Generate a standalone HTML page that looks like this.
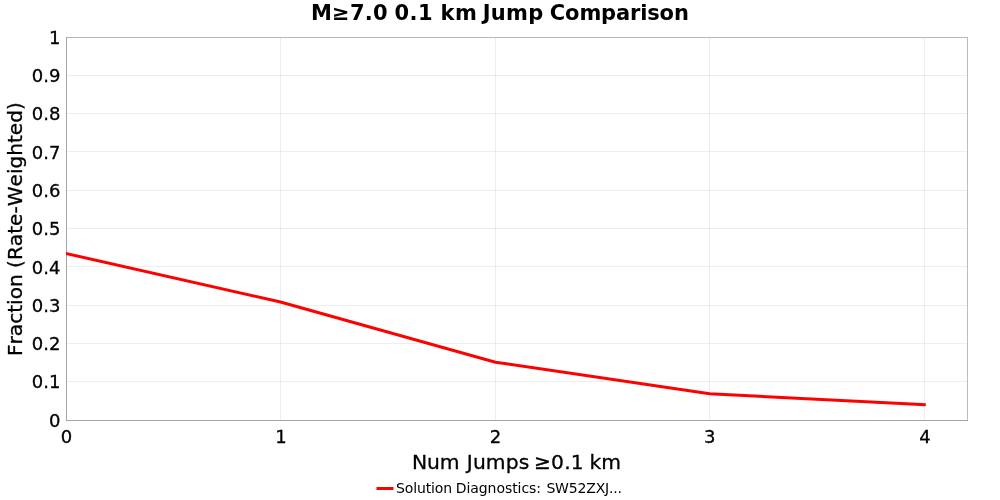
<!DOCTYPE html>
<html lang="en">
<head>
<meta charset="utf-8">
<title>M≥7.0 0.1 km Jump Comparison</title>
<style>
html,body{margin:0;padding:0;background:#fff;}
body{width:1000px;height:500px;overflow:hidden;}
svg{display:block;will-change:transform;}
text{font-family:"DejaVu Sans","Liberation Sans",sans-serif;font-kerning:none;fill:#000;stroke:#000;stroke-width:0.3px;stroke-linejoin:round;}
.tick text{font-size:18px;}
.grid line{stroke:#000;stroke-opacity:0.065;stroke-width:1;shape-rendering:crispEdges;}
</style>
</head>
<body>
<svg width="1000" height="500" viewBox="0 0 1000 500">
<rect x="0" y="0" width="1000" height="500" fill="#ffffff"/>
<text y="20.15" font-size="21" font-weight="bold" style="stroke:none"><tspan x="310.98" style="letter-spacing:0.25px">M≥7.0 </tspan><tspan x="394.5" style="letter-spacing:0.5px">0.1 </tspan><tspan x="440.5" style="letter-spacing:0.5px">km </tspan><tspan x="482.66" style="letter-spacing:0.33px">Jump </tspan><tspan x="549.85" style="letter-spacing:-0.15px">Comparison</tspan></text>
<g class="grid">
<line x1="67" y1="381.5" x2="967" y2="381.5"/>
<line x1="67" y1="343.5" x2="967" y2="343.5"/>
<line x1="67" y1="305.5" x2="967" y2="305.5"/>
<line x1="67" y1="266.5" x2="967" y2="266.5"/>
<line x1="67" y1="228.5" x2="967" y2="228.5"/>
<line x1="67" y1="190.5" x2="967" y2="190.5"/>
<line x1="67" y1="151.5" x2="967" y2="151.5"/>
<line x1="67" y1="113.5" x2="967" y2="113.5"/>
<line x1="67" y1="75.5" x2="967" y2="75.5"/>
<line x1="280.5" y1="38" x2="280.5" y2="420"/>
<line x1="495.5" y1="38" x2="495.5" y2="420"/>
<line x1="709.5" y1="38" x2="709.5" y2="420"/>
<line x1="924.5" y1="38" x2="924.5" y2="420"/>
</g>
<clipPath id="plotclip"><rect x="66" y="37" width="902" height="384"/></clipPath>
<g shape-rendering="crispEdges" fill="none" stroke-width="1">
<rect x="66.5" y="37.5" width="901" height="383" stroke="#b6b6b6"/>
<line x1="967.5" y1="38" x2="967.5" y2="420" stroke="#bcbcbc"/>
<line x1="66.5" y1="37" x2="66.5" y2="421" stroke="#a5a5a5"/>
<line x1="66" y1="420.5" x2="968" y2="420.5" stroke="#a5a5a5"/>
<rect x="66" y="420" width="1" height="1" fill="#9a9a9a" stroke="none"/>
</g>
<polyline clip-path="url(#plotclip)" points="66.5,253.6 280.5,302.0 495.4,362.2 709.6,393.8 924.3,404.7" fill="none" stroke="#ff0000" stroke-width="3" stroke-linecap="square" stroke-linejoin="miter"/>
<g class="tick">
<text x="60.5" y="427.1" text-anchor="end">0</text>
<text x="60.5" y="388.1" text-anchor="end">0.1</text>
<text x="60.5" y="350.1" text-anchor="end">0.2</text>
<text x="60.5" y="312.1" text-anchor="end">0.3</text>
<text x="60.5" y="273.9" text-anchor="end">0.4</text>
<text x="60.5" y="235.1" text-anchor="end">0.5</text>
<text x="60.5" y="197.1" text-anchor="end">0.6</text>
<text x="60.5" y="159.1" text-anchor="end">0.7</text>
<text x="60.5" y="120.1" text-anchor="end">0.8</text>
<text x="60.5" y="82.1" text-anchor="end">0.9</text>
<text x="60.5" y="44.1" text-anchor="end">1</text>
<text x="66.50" y="443.1" text-anchor="middle">0</text>
<text x="280.92" y="443.1" text-anchor="middle">1</text>
<text x="495.54" y="443.1" text-anchor="middle">2</text>
<text x="709.66" y="443.1" text-anchor="middle">3</text>
<text x="925.08" y="443.1" text-anchor="middle">4</text>
</g>
<text transform="translate(22.4,229.1) rotate(-90)" text-anchor="middle" font-size="20.1">Fraction (Rate-Weighted)</text>
<text y="468.9" font-size="20.3"><tspan x="412.0" style="letter-spacing:-0.15px">Num </tspan><tspan x="466.8" style="letter-spacing:0.1px">Jumps </tspan><tspan x="534.0" style="letter-spacing:0.12px">≥0.1 </tspan><tspan x="589.6">km</tspan></text>
<line x1="376.5" y1="488.5" x2="393.5" y2="488.5" stroke="#ff0000" stroke-width="3"/>
<text y="493.2" font-size="14" style="stroke:none"><tspan x="396" style="letter-spacing:-0.14px">Solution </tspan><tspan x="455.7" style="letter-spacing:-0.06px">Diagnostics: </tspan><tspan x="546.4" style="letter-spacing:-0.18px">SW52ZXJ...</tspan></text>
</svg>
</body>
</html>
